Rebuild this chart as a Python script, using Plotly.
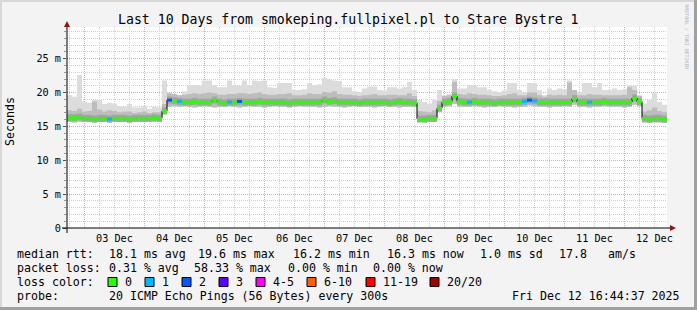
import pandas as pd
import plotly.graph_objects as go

MONO = "DejaVu Sans Mono"

# ---------------- data (2-hour bins, 10 days) ----------------
start_time = "2025-12-02 17:05"
bin_hours = 2

median_ms = [
    16.3, 16.3, 16.4, 16.2, 16.2, 16.1, 16.2, 16.2, 16.1, 16.2,
    16.2, 16.2, 16.1, 16.2, 16.2, 16.2, 16.2, 16.3, 16.2, 17.3,
    18.9, 18.8, 18.7, 18.6, 18.6, 18.7, 18.6, 18.6, 18.6, 18.9,
    18.6, 18.5, 18.6, 18.6, 18.7, 18.6, 18.6, 18.6, 18.7, 18.6,
    18.6, 18.6, 18.6, 18.6, 18.5, 18.6, 18.6, 18.6, 18.6, 18.6,
    18.6, 18.9, 18.7, 18.8, 18.6, 18.6, 18.6, 18.6, 18.5, 18.6,
    18.6, 18.6, 18.6, 18.6, 18.5, 18.6, 18.7, 18.6, 18.6, 18.5,
    16.1, 16.1, 16.2, 16.2, 17.7, 18.6, 18.7, 19.5, 18.7, 18.6,
    18.6, 18.7, 18.6, 18.6, 18.6, 18.5, 18.6, 18.6, 18.6, 18.6,
    18.6, 18.7, 18.9, 18.8, 18.6, 18.6, 18.6, 18.6, 18.6, 18.6,
    18.6, 19.1, 18.6, 18.6, 18.6, 18.6, 18.6, 18.7, 18.6, 18.6,
    18.6, 18.6, 18.6, 19.2, 18.7, 16.2, 16.1, 16.2, 16.2, 16.1,
]

loss_count = [
    0, 0, 0, 0, 0, 0, 0, 0, 1, 0,
    0, 0, 0, 0, 0, 0, 0, 0, 0, 0,
    2, 0, 1, 0, 0, 0, 0, 0, 0, 0,
    0, 0, 1, 0, 2, 0, 0, 0, 0, 0,
    0, 0, 0, 0, 0, 0, 0, 0, 0, 0,
    0, 0, 0, 0, 0, 0, 0, 0, 0, 0,
    0, 0, 0, 0, 0, 0, 0, 0, 0, 0,
    0, 0, 0, 0, 0, 0, 0, 0, 0, 0,
    1, 0, 0, 0, 0, 0, 0, 0, 0, 0,
    0, 1, 2, 1, 0, 0, 0, 0, 0, 0,
    0, 0, 0, 0, 1, 0, 0, 0, 0, 0,
    0, 0, 0, 0, 0, 0, 0, 0, 0, 0,
]

smoke_max = [
    19.6, 19.4, 22.6, 18.7, 18.5, 18.9, 18.9, 18.3, 18.5, 18.4,
    18.0, 17.9, 18.3, 17.8, 17.8, 18.0, 17.6, 17.9, 17.8, 21.8,
    20.0, 19.8, 19.6, 20.2, 21.1, 21.1, 21.0, 21.8, 21.8, 21.1,
    20.8, 20.8, 21.8, 21.1, 21.0, 21.8, 21.1, 21.8, 21.7, 21.8,
    20.8, 20.7, 21.4, 21.4, 21.4, 20.4, 20.4, 20.5, 21.4, 21.1,
    21.2, 22.2, 22.0, 21.8, 21.7, 20.8, 20.8, 20.2, 20.0, 20.6,
    20.9, 20.9, 20.4, 20.3, 20.8, 20.8, 20.6, 20.8, 21.6, 20.4,
    18.9, 18.6, 18.4, 18.9, 20.4, 19.6, 19.8, 22.0, 20.6, 20.6,
    21.1, 21.1, 20.8, 20.8, 20.4, 20.2, 20.0, 20.3, 21.4, 21.4,
    20.4, 20.0, 21.4, 21.4, 20.4, 19.6, 20.6, 20.4, 20.6, 20.5,
    21.8, 20.2, 20.1, 21.4, 21.4, 20.8, 21.4, 20.4, 20.4, 20.6,
    20.4, 20.5, 21.1, 21.0, 19.6, 18.4, 18.9, 20.0, 18.6, 18.2,
]

smoke_mid_top = [
    17.4, 17.3, 17.6, 17.2, 17.3, 18.7, 17.5, 17.2, 17.4, 17.3,
    17.1, 17.2, 17.2, 17.0, 17.1, 17.2, 17.0, 17.1, 17.1, 18.3,
    19.9, 19.8, 19.6, 19.7, 19.8, 19.9, 19.8, 19.9, 20.0, 19.9,
    19.7, 19.7, 19.8, 19.8, 19.9, 19.9, 19.8, 19.9, 20.0, 19.8,
    19.7, 19.7, 19.8, 19.8, 19.9, 19.6, 19.6, 19.7, 19.9, 19.8,
    19.8, 20.1, 20.0, 20.2, 19.8, 19.7, 19.7, 19.6, 19.5, 19.6,
    19.7, 19.8, 19.6, 19.6, 19.7, 19.7, 19.6, 19.6, 19.9, 19.5,
    17.3, 17.2, 17.1, 17.4, 18.8, 19.5, 19.6, 21.6, 19.8, 19.7,
    19.9, 19.8, 19.7, 19.7, 19.6, 19.5, 19.5, 19.6, 19.8, 19.9,
    19.6, 19.6, 20.0, 20.0, 19.6, 19.4, 19.7, 19.6, 19.7, 19.6,
    21.5, 20.4, 19.6, 19.6, 19.8, 19.7, 19.7, 19.6, 19.6, 19.6,
    19.6, 19.7, 20.8, 20.4, 19.5, 17.2, 17.4, 17.8, 17.3, 17.1,
]

smoke_min = [
    15.7, 15.6, 15.7, 15.8, 15.7, 15.6, 15.7, 15.7, 15.6, 15.7,
    15.7, 15.7, 15.6, 15.7, 15.7, 15.7, 15.8, 15.7, 15.7, 16.8,
    17.9, 18.0, 17.9, 18.0, 17.9, 17.8, 17.9, 18.0, 17.9, 17.8,
    17.9, 17.9, 18.0, 17.9, 17.8, 17.9, 18.0, 17.9, 17.9, 17.8,
    17.9, 18.0, 17.9, 17.9, 17.8, 17.9, 18.0, 17.9, 17.9, 17.9,
    17.8, 17.9, 18.0, 17.9, 17.9, 17.8, 17.9, 18.0, 17.9, 17.9,
    17.9, 17.8, 17.9, 18.0, 17.9, 17.9, 17.8, 17.9, 17.9, 17.9,
    15.7, 15.6, 15.7, 15.7, 17.2, 17.9, 18.0, 18.3, 17.9, 17.9,
    17.9, 18.0, 17.9, 17.8, 17.9, 17.9, 18.0, 17.9, 17.9, 17.8,
    17.9, 17.9, 18.1, 18.0, 17.9, 17.9, 17.8, 17.9, 17.9, 18.0,
    17.9, 18.2, 17.9, 17.9, 17.8, 17.9, 17.9, 18.0, 17.9, 17.9,
    17.9, 17.8, 17.9, 18.2, 18.0, 15.6, 15.5, 15.6, 15.6, 15.5,
]

day_labels = ["03 Dec", "04 Dec", "05 Dec", "06 Dec", "07 Dec",
              "08 Dec", "09 Dec", "10 Dec", "11 Dec", "12 Dec"]
first_label_noon = "2025-12-03 12:00"
ytick_vals = [0, 5, 10, 15, 20, 25]
ytick_text = ["0", "5 m", "10 m", "15 m", "20 m", "25 m"]

loss_levels = [0, 1, 2, 3, "4-5", "6-10", "11-19", "20/20"]
loss_colors = ["#26ff00", "#00b8ff", "#0059ff", "#5e00ff",
               "#ff00ff", "#ff5f00", "#ff0000", "#a10000"]

legend_rtt = [("median rtt:", 16), ("18.1 ms avg", 108), ("19.6 ms max", 197),
              ("16.2 ms min", 292), ("16.3 ms now", 386), ("1.0 ms sd", 479),
              ("17.8", 558), ("am/s", 607)]
legend_loss = [("packet loss:", 16), ("0.31 % avg", 108), ("58.33 % max", 193),
               ("0.00 % min", 287), ("0.00 % now", 372)]
probe_text = "20 ICMP Echo Pings (56 Bytes) every 300s"
stamp_text = "Fri Dec 12 16:44:37 2025"
title_text = "Last 10 Days from smokeping.fullpixel.pl to Stare Bystre 1"

# ---------------- geometry helpers (pixel -> paper) ----------------
W, H = 697, 310
L, R, T, B = 67, 30, 27, 82
PW, PH = W - L - R, H - T - B


def px(x):
    return (x - L) / PW


def py(y):
    return (H - B - y) / PH


n = len(median_ms)
edges = pd.date_range(start_time, periods=n + 1, freq=f"{bin_hours}h")
range_end = edges[0] + pd.Timedelta(days=10)


def ext(a):
    return list(a) + [a[-1]]


def flat_segments(vals, mask=None):
    xs, ys = [], []
    for i in range(n):
        if mask is None or mask[i]:
            xs += [edges[i], edges[i + 1], None]
            ys += [vals[i], vals[i], None]
    return xs, ys


fig = go.Figure()
common = dict(mode="lines", hoverinfo="skip", showlegend=False)
fig.add_trace(go.Scatter(x=edges, y=ext(smoke_min), line=dict(width=0, shape="hv"), **common))
fig.add_trace(go.Scatter(x=edges, y=ext(smoke_max), line=dict(width=0, shape="hv"),
                         fill="tonexty", fillcolor="#dcdcdc", **common))
fig.add_trace(go.Scatter(x=edges, y=ext(smoke_min), line=dict(width=0, shape="hv"), **common))
fig.add_trace(go.Scatter(x=edges, y=ext(smoke_mid_top), line=dict(width=0, shape="hv"),
                         fill="tonexty", fillcolor="#bdbdbd", **common))
# darker smoke right around the median (horizontal pieces only)
dx, dy = flat_segments(median_ms)
fig.add_trace(go.Scatter(x=dx, y=dy, line=dict(width=7, color="#a4a4a4"), **common))
fig.add_trace(go.Scatter(x=edges, y=ext(median_ms), line=dict(width=1, color="#000000", shape="hv"), **common))

# colored median segments by loss
def bucket(c):
    if c <= 3:
        return c
    if c <= 5:
        return 4
    if c <= 10:
        return 5
    if c < 20:
        return 6
    return 7


for li, col in enumerate(loss_colors):
    mask = [bucket(c) == li for c in loss_count]
    if any(mask):
        xs, ys = flat_segments(median_ms, mask)
        fig.add_trace(go.Scatter(x=xs, y=ys, line=dict(width=3, color=col), **common))

GRID_MINOR = "#cfcfcf"
GRID_MAJOR = "#f3a0a0"
DASH = "1px,1px"

fig.update_xaxes(
    type="date", range=[edges[0], range_end], showticklabels=False,
    tickmode="linear", tick0="2025-12-03 00:00", dtick=86400000,
    showgrid=True, gridcolor=GRID_MAJOR, griddash=DASH, gridwidth=1,
    minor=dict(tickmode="linear", tick0="2025-12-03 00:00", dtick=6 * 3600000,
               showgrid=True, gridcolor=GRID_MINOR, griddash=DASH, gridwidth=1),
    zeroline=False, showline=False, ticks="", automargin=False, fixedrange=True,
)
fig.update_yaxes(
    range=[0, PH / 6.77], tickmode="array", tickvals=ytick_vals, ticktext=ytick_text,
    showgrid=True, gridcolor=GRID_MAJOR, griddash=DASH, gridwidth=1,
    ticks="outside", ticklen=3, tickcolor="#555555", tickwidth=1,
    tickfont=dict(family=MONO, size=10.2, color="#000000"),
    minor=dict(tickmode="linear", tick0=0, dtick=1, showgrid=True, gridcolor=GRID_MINOR,
               griddash=DASH, gridwidth=1, ticks="outside", ticklen=2, tickcolor="#999999"),
    zeroline=False, showline=False, automargin=False, fixedrange=True,
)

shapes = []
# page frame
shapes.append(dict(type="rect", xref="paper", yref="paper", x0=px(0), x1=px(W), y0=py(0), y1=py(2),
                   fillcolor="#d8d8d8", line=dict(width=0), layer="below"))
shapes.append(dict(type="rect", xref="paper", yref="paper", x0=px(0), x1=px(2), y0=py(0), y1=py(H),
                   fillcolor="#d8d8d8", line=dict(width=0), layer="below"))
shapes.append(dict(type="rect", xref="paper", yref="paper", x0=px(694), x1=px(W), y0=py(0), y1=py(H),
                   fillcolor="#a0a0a0", line=dict(width=0), layer="below"))
shapes.append(dict(type="rect", xref="paper", yref="paper", x0=px(0), x1=px(W), y0=py(307), y1=py(H),
                   fillcolor="#a0a0a0", line=dict(width=0), layer="below"))
# axes
shapes.append(dict(type="line", xref="paper", yref="paper", x0=px(62), x1=px(671), y0=0, y1=0,
                   line=dict(color="#000000", width=1)))
shapes.append(dict(type="line", xref="paper", yref="paper", x0=0, x1=0, y0=py(233), y1=py(26),
                   line=dict(color="#000000", width=1)))
shapes.append(dict(type="path", xref="paper", yref="paper",
                   path=f"M {px(670)},{py(225)} L {px(676)},{py(228)} L {px(670)},{py(231)} Z",
                   fillcolor="#9a1010", line=dict(width=0)))
shapes.append(dict(type="path", xref="paper", yref="paper",
                   path=f"M {px(64)},{py(27)} L {px(67)},{py(21)} L {px(70)},{py(27)} Z",
                   fillcolor="#9a1010", line=dict(width=0)))

annotations = []


def text(x, y, s, size=11.6, anchor="left", color="#000000", angle=0):
    annotations.append(dict(xref="paper", yref="paper", x=px(x), y=py(y), text=s.replace(" ", "\u00a0"),
                            showarrow=False, xanchor=anchor, yanchor="middle", textangle=angle,
                            font=dict(family=MONO, size=size, color=color), borderpad=0))


# title, axis title, watermark
text(348.5, 19.5, title_text, size=13.2, anchor="center")
text(10, 122, "Seconds", size=11.6, anchor="center", angle=-90)
text(686.5, 37, "RRDTOOL / TOBI OETIKER", size=4.9, anchor="center", color="#b4b4b4", angle=90)

# day labels at noon (data coordinates)
noon0 = pd.Timestamp(first_label_noon)
for k, lab in enumerate(day_labels):
    annotations.append(dict(xref="x", yref="paper", x=noon0 + pd.Timedelta(days=k), y=py(238.5),
                            text=lab.replace(" ", "\u00a0"), showarrow=False, xanchor="center",
                            yanchor="middle", font=dict(family=MONO, size=10.2, color="#000000")))

# legend rows
for s, x in legend_rtt:
    text(x, 254, s)
for s, x in legend_loss:
    text(x, 268, s)
text(16, 282, "loss color:")
box_x = [108, 145, 182, 219, 256, 307, 366, 430]
for bx, lab, col in zip(box_x, loss_levels, loss_colors):
    shapes.append(dict(type="rect", xref="paper", yref="paper", x0=px(bx), x1=px(bx + 9),
                       y0=py(286.5), y1=py(277.5), fillcolor=col, line=dict(color="#000000", width=1)))
    text(bx + 16, 282, str(lab))
text(16, 296, "probe:")
text(108, 296, probe_text)
text(681, 296, stamp_text, anchor="right")

fig.update_layout(
    width=W, height=H, margin=dict(l=L, r=R, t=T, b=B, pad=0),
    paper_bgcolor="#f3f3f3", plot_bgcolor="#ffffff", showlegend=False,
    shapes=shapes, annotations=annotations, template="none",
)

fig.write_html("out.html")
